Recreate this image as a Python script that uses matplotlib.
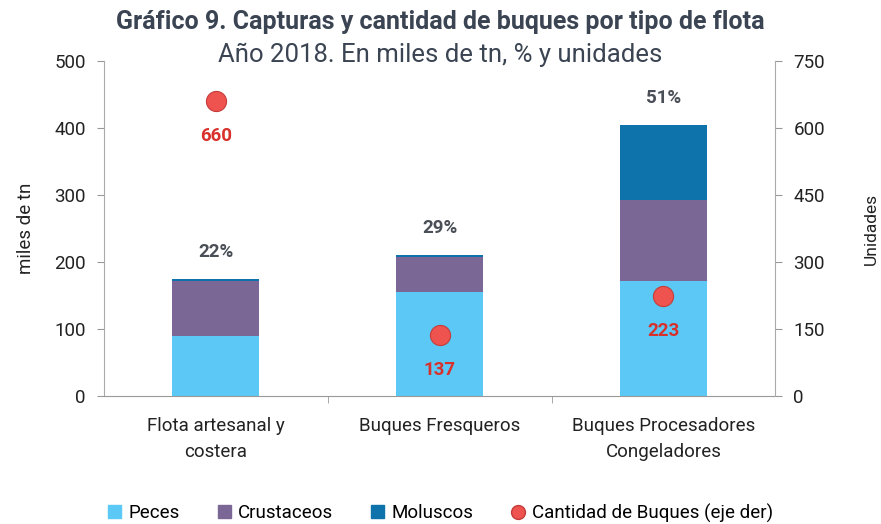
import numpy as np
import matplotlib.pyplot as plt
from matplotlib.lines import Line2D
from matplotlib.patches import Patch

plt.rcParams['font.family'] = ['Roboto', 'DejaVu Sans']

categorias = ['Flota artesanal y\ncostera', 'Buques Fresqueros', 'Buques Procesadores\nCongeladores']
peces = [90, 155, 171]
crustaceos = [82, 53, 122]
moluscos = [2, 2, 111]
porcentajes = ['22%', '29%', '51%']
buques = [660, 137, 223]

c_peces = '#5BC8F5'
c_crust = '#7A6796'
c_mol = '#0E73AA'
c_dot = '#EF5350'

fig = plt.figure(figsize=(8.81, 5.24), dpi=100)
ax = fig.add_axes([0.118, 0.2443, 0.762, 0.6393])
x = np.arange(len(categorias))
w = 0.39

ax.bar(x, peces, w, color=c_peces)
ax.bar(x, crustaceos, w, bottom=peces, color=c_crust)
base = np.array(peces) + np.array(crustaceos)
ax.bar(x, moluscos, w, bottom=base, color=c_mol)
totales = base + np.array(moluscos)

for xi, t, p in zip(x, totales, porcentajes):
    ax.annotate(p, (xi, t), xytext=(0, 13), textcoords='offset points',
                ha='center', va='bottom', fontsize=13.5, fontweight='bold', color='#4a4f57')

ax.set_xlim(-0.5, 2.5)
ax.set_ylim(0, 500)
ax.set_yticks([0, 100, 200, 300, 400, 500])
ax.set_xticks(x)
ax.set_xticklabels(categorias, fontsize=13.5, color='#222222', linespacing=1.55)
ax.tick_params(axis='x', length=0, pad=15)
ax.set_xticks([0.5, 1.5], minor=True)
ax.tick_params(axis='x', which='minor', length=5, color='#999999')
ax.tick_params(axis='y', labelsize=13.5, colors='#222222', length=5, pad=8)
ax.tick_params(axis='y', color='#999999')
ax.set_ylabel('miles de tn', fontsize=13.5, color='#222222', labelpad=14)
for s in ['top', 'right']:
    ax.spines[s].set_visible(False)
ax.spines['left'].set_color('#aaaaaa')
ax.spines['bottom'].set_color('#999999')

ax2 = ax.twinx()
ax2.set_ylim(0, 750)
ax2.set_yticks([0, 150, 300, 450, 600, 750])
ax2.scatter(x, buques, s=210, color=c_dot, edgecolor='#c43c3a', linewidth=0.8, zorder=5)
for xi, b in zip(x, buques):
    ax2.annotate(str(b), (xi, b), xytext=(0, -25), textcoords='offset points',
                 ha='center', va='center', fontsize=13.5, fontweight='bold', color='#d8302b')
ax2.tick_params(axis='y', labelsize=13.5, colors='#222222', length=5, pad=8)
ax2.tick_params(axis='y', color='#999999')
ax2.set_ylabel('Unidades', fontsize=12.5, color='#222222', labelpad=28)
for s in ['top', 'left', 'bottom']:
    ax2.spines[s].set_visible(False)
ax2.spines['right'].set_color('#aaaaaa')

fig.text(0.5, 0.958, 'Gráfico 9. Capturas y cantidad de buques por tipo de flota',
         ha='center', va='center', fontsize=18, fontweight='bold', color='#3b4452')
fig.text(0.5, 0.895, 'Año 2018. En miles de tn, % y unidades',
         ha='center', va='center', fontsize=18.5, color='#3b4452')

handles = [Patch(color=c_peces, label='Peces'),
           Patch(color=c_crust, label='Crustaceos'),
           Patch(color=c_mol, label='Moluscos'),
           Line2D([], [], marker='o', ls='', markersize=10, color=c_dot,
                  markeredgecolor='#c43c3a', label='Cantidad de Buques (eje der)')]
fig.legend(handles=handles, loc='center', bbox_to_anchor=(0.5, 0.021), ncol=4,
           frameon=False, fontsize=13.5, handlelength=0.7, handleheight=0.7,
           handletextpad=0.4, columnspacing=2.0)

fig.savefig('out.png', dpi=100)
